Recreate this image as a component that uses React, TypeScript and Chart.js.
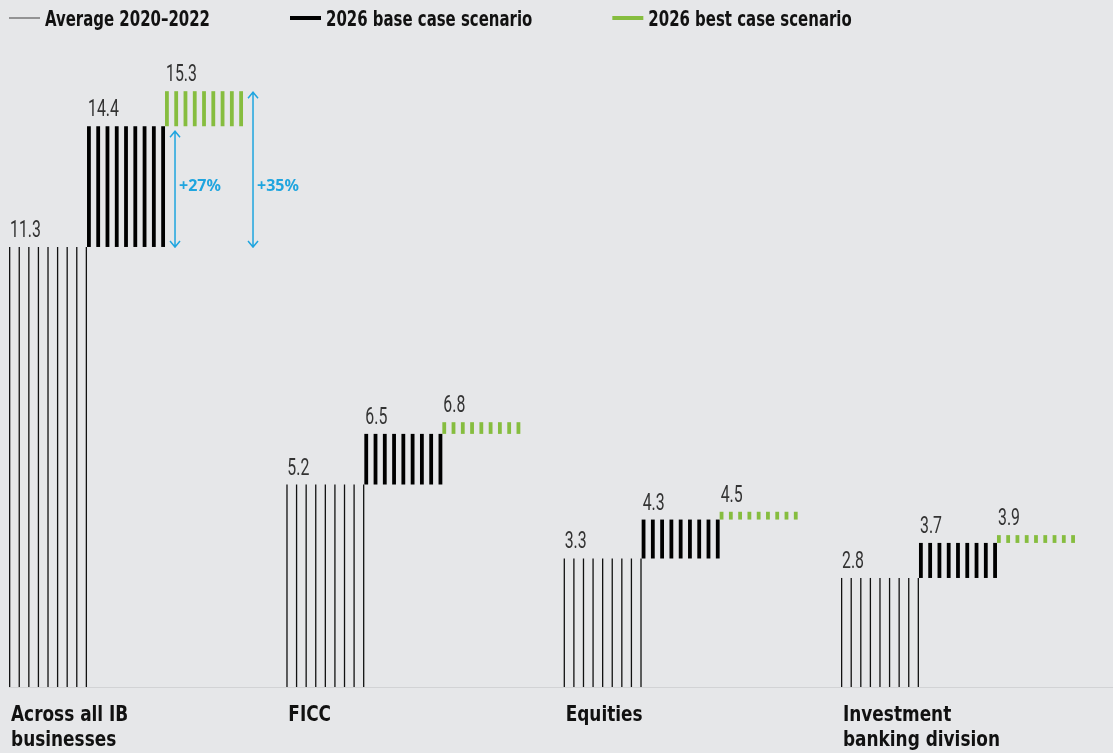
import React, { useEffect, useRef } from 'react';
import { Chart, registerables } from 'chart.js';

Chart.register(...registerables);

// ---------- data ----------
const categories: string[][] = [
  ['Across all IB', 'businesses'],
  ['FICC'],
  ['Equities'],
  ['Investment', 'banking division'],
];
const average2020to2022 = [11.3, 5.2, 3.3, 2.8];
const baseCase2026 = [14.4, 6.5, 4.3, 3.7];
const bestCase2026 = [15.3, 6.8, 4.5, 3.9];
const seriesLabels = ['Average 2020–2022', '2026 base case scenario', '2026 best case scenario'];
const growthLabels = ['+27%', '+35%'];

// ---------- styles ----------
const BG = '#e6e7e9';
const GREEN = '#86bd3f';
const BLUE = '#1fa5df';
const NARROW = '"Liberation Sans Narrow", "DejaVu Sans Condensed", "Roboto", sans-serif';
const LIGHT = '"Roboto", "Liberation Sans Narrow", sans-serif';

function scaledText(ctx: CanvasRenderingContext2D, text: string, x: number, y: number, sx: number) {
  ctx.save();
  ctx.translate(x, y);
  ctx.scale(sx, 1);
  ctx.fillText(text, 0, 0);
  ctx.restore();
  return ctx.measureText(text).width * sx;
}

const stripesPlugin = {
  id: 'stripes',
  afterDatasetsDraw(chart: any) {
    const ctx: CanvasRenderingContext2D = chart.ctx;
    const yScale = chart.scales.y;
    ctx.save();
    chart.data.datasets.forEach((ds: any, di: number) => {
      const meta = chart.getDatasetMeta(di);
      meta.data.forEach((el: any, i: number) => {
        const p = el.getProps(['x', 'y', 'base', 'width'], true);
        const left = p.x - p.width / 2;
        const right = p.x + p.width / 2;
        const top = Math.min(p.y, p.base);
        const bottom = Math.max(p.y, p.base);
        const n = 9;
        if (di === 0) {
          ctx.strokeStyle = '#111';
          ctx.lineWidth = 1.3;
          const step = (right - left - 1.3) / (n - 1);
          for (let k = 0; k < n; k++) {
            const xx = left + 0.65 + k * step;
            ctx.beginPath();
            ctx.moveTo(xx, top);
            ctx.lineTo(xx, bottom);
            ctx.stroke();
          }
        } else {
          ctx.fillStyle = di === 1 ? '#000' : GREEN;
          const sw = 3.8;
          const step = (right - left - sw) / (n - 1);
          for (let k = 0; k < n; k++) {
            ctx.fillRect(left + k * step, top, sw, bottom - top);
          }
        }
        // value label
        const raw = ds.data[i].y[1];
        ctx.fillStyle = '#333';
        ctx.font = `400 24px ${LIGHT}`;
        ctx.textBaseline = 'alphabetic';
        ctx.textAlign = 'left';
        scaledText(ctx, raw.toFixed(1), left + 1, top - 10, 0.66);
      });
    });

    // growth arrows for first category
    const m1 = chart.getDatasetMeta(1).data[0].getProps(['x', 'width'], true);
    const m2 = chart.getDatasetMeta(2).data[0].getProps(['x', 'width'], true);
    const yAvg = yScale.getPixelForValue(average2020to2022[0]);
    const yBase = yScale.getPixelForValue(baseCase2026[0]);
    const yBest = yScale.getPixelForValue(bestCase2026[0]);
    const yLabel = yScale.getPixelForValue((average2020to2022[0] + baseCase2026[0]) / 2);
    const arrows = [
      { x: m1.x + m1.width / 2 + 10, top: yBase + 5, label: growthLabels[0] },
      { x: m2.x + m2.width / 2 + 10, top: yBest + 1, label: growthLabels[1] },
    ];
    ctx.strokeStyle = BLUE;
    ctx.fillStyle = BLUE;
    ctx.lineWidth = 1.5;
    arrows.forEach((a) => {
      const bot = yAvg;
      ctx.beginPath();
      ctx.moveTo(a.x, a.top);
      ctx.lineTo(a.x, bot);
      ctx.moveTo(a.x - 5, a.top + 6);
      ctx.lineTo(a.x, a.top);
      ctx.lineTo(a.x + 5, a.top + 6);
      ctx.moveTo(a.x - 5, bot - 6);
      ctx.lineTo(a.x, bot);
      ctx.lineTo(a.x + 5, bot - 6);
      ctx.stroke();
      ctx.font = `bold 16px "Noto Sans", sans-serif`;
      ctx.textBaseline = 'middle';
      ctx.textAlign = 'left';
      ctx.fillText(a.label, a.x + 4, yLabel);
    });
    ctx.restore();
  },
  beforeDatasetsDraw(chart: any) {
    const ctx: CanvasRenderingContext2D = chart.ctx;
    const y0 = chart.scales.y.getPixelForValue(0);
    const first = chart.getDatasetMeta(0).data[0].getProps(['x', 'width'], true);
    ctx.save();
    ctx.strokeStyle = '#d2d3d5';
    ctx.lineWidth = 1.2;
    ctx.beginPath();
    ctx.moveTo(first.x - first.width / 2, y0 + 0.5);
    ctx.lineTo(chart.width, y0 + 0.5);
    ctx.stroke();
    ctx.restore();
  },
  afterDraw(chart: any) {
    const ctx: CanvasRenderingContext2D = chart.ctx;
    const y0 = chart.scales.y.getPixelForValue(0);
    ctx.save();
    // category labels
    ctx.fillStyle = '#111';
    ctx.font = `bold 22px ${NARROW}`;
    ctx.textBaseline = 'alphabetic';
    ctx.textAlign = 'left';
    const meta0 = chart.getDatasetMeta(0);
    categories.forEach((lines, i) => {
      const p = meta0.data[i].getProps(['x', 'width'], true);
      const left = p.x - p.width / 2 + 2;
      lines.forEach((ln, li) => {
        scaledText(ctx, ln, left, y0 + 34 + li * 25, 0.855);
      });
    });
    // legend
    let x = 9;
    const ly = 18;
    const samples = [
      { color: '#777', w: 1.5 },
      { color: '#000', w: 4 },
      { color: GREEN, w: 4 },
    ];
    seriesLabels.forEach((lab, i) => {
      ctx.strokeStyle = samples[i].color;
      ctx.lineWidth = samples[i].w;
      ctx.beginPath();
      ctx.moveTo(x, ly);
      ctx.lineTo(x + 31, ly);
      ctx.stroke();
      x += 36;
      ctx.fillStyle = '#111';
      ctx.font = `bold 22px ${NARROW}`;
      ctx.textBaseline = 'alphabetic';
      const w = scaledText(ctx, lab, x, 26, 0.755);
      x += w + 80;
    });
    ctx.restore();
  },
};

export default function App() {
  const ref = useRef<HTMLCanvasElement | null>(null);
  useEffect(() => {
    document.body.style.margin = '0';
    document.body.style.background = BG;
    if (!ref.current) return;
    const mk = (vals: number[][]) => vals.map((v, i) => ({ x: i, y: v }));
    const common = { backgroundColor: 'rgba(0,0,0,0)', borderColor: 'rgba(0,0,0,0)', borderWidth: 0, barThickness: 78 };
    const chart = new Chart(ref.current, {
      type: 'bar',
      data: {
        datasets: [
          { label: seriesLabels[0], data: mk(average2020to2022.map((v) => [0, v])) as any, ...common },
          { label: seriesLabels[1], data: mk(average2020to2022.map((v, i) => [v, baseCase2026[i]])) as any, ...common },
          { label: seriesLabels[2], data: mk(baseCase2026.map((v, i) => [v, bestCase2026[i]])) as any, ...common },
        ],
      },
      options: {
        animation: false,
        responsive: true,
        maintainAspectRatio: false,
        layout: { padding: { top: 25, bottom: 66, left: 0, right: 0 } },
        scales: {
          x: { type: 'linear', min: -0.4544, max: 3.559, offset: false, display: false },
          y: { type: 'linear', min: 0, max: 17, display: false },
        },
        plugins: { legend: { display: false }, tooltip: { enabled: false }, colors: { enabled: false } } as any,
      },
      plugins: [stripesPlugin as any],
    });
    return () => chart.destroy();
  }, []);
  return (
    <div style={{ width: 1113, height: 753, position: 'relative', background: BG }}>
      <canvas ref={ref} />
    </div>
  );
}
